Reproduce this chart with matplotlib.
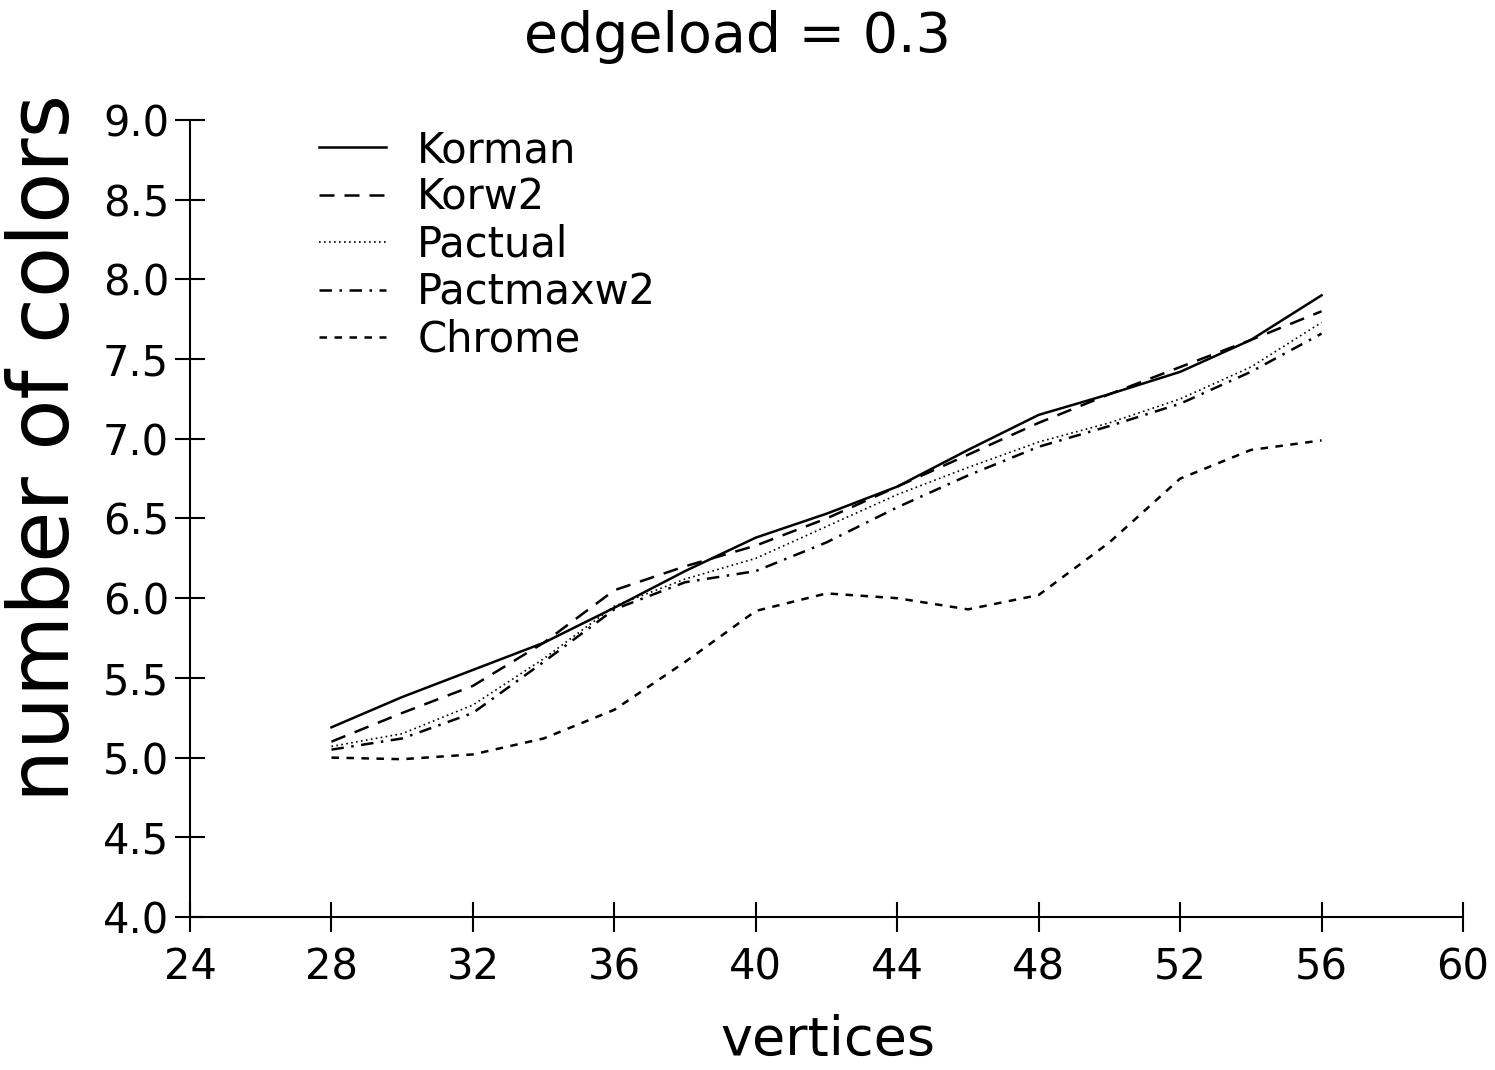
import matplotlib
matplotlib.use("Agg")
import matplotlib.pyplot as plt

vertices = [28, 30, 32, 34, 36, 38, 40, 42, 44, 46, 48, 50, 52, 54, 56]
korman = [5.19, 5.38, 5.55, 5.72, 5.94, 6.17, 6.38, 6.53, 6.70, 6.93, 7.15, 7.28, 7.42, 7.62, 7.90]
korw2 = [5.10, 5.28, 5.45, 5.72, 6.05, 6.20, 6.33, 6.50, 6.70, 6.90, 7.10, 7.28, 7.45, 7.62, 7.80]
pactual = [5.07, 5.15, 5.33, 5.62, 5.95, 6.12, 6.25, 6.45, 6.65, 6.82, 6.98, 7.10, 7.25, 7.45, 7.73]
pactmaxw2 = [5.05, 5.12, 5.28, 5.60, 5.93, 6.10, 6.17, 6.35, 6.57, 6.77, 6.95, 7.08, 7.22, 7.42, 7.66]
chrome = [5.00, 4.99, 5.02, 5.12, 5.30, 5.60, 5.92, 6.03, 6.00, 5.93, 6.02, 6.35, 6.75, 6.93, 6.99]

x_ticks = list(range(24, 61, 4))
y_ticks = [4.0, 4.5, 5.0, 5.5, 6.0, 6.5, 7.0, 7.5, 8.0, 8.5, 9.0]

plt.rcParams["font.family"] = ["DejaVu Sans"]

fig = plt.figure(figsize=(14.95, 10.7), dpi=100)
ax = fig.add_axes([190 / 1495, 1 - 917 / 1070, (1463 - 190) / 1495, (917 - 120) / 1070])

lw = 1.8
ax.plot(vertices, korman, color="black", lw=lw, linestyle="-", label="Korman")
ax.plot(vertices, korw2, color="black", lw=lw, linestyle=(0, (6, 4)), label="Korw2")
ax.plot(vertices, pactual, color="black", lw=1.2, linestyle=(0, (1, 2)), label="Pactual")
ax.plot(vertices, pactmaxw2, color="black", lw=lw, linestyle=(0, (5, 3, 1, 3)), label="Pactmaxw2")
ax.plot(vertices, chrome, color="black", lw=lw, linestyle=(0, (3, 3)), label="Chrome")

ax.set_xlim(24, 60)
ax.set_ylim(4.0, 9.0)
ax.set_xticks(x_ticks)
ax.set_yticks(y_ticks)
ax.set_yticklabels([f"{v:.1f}" for v in y_ticks])
ax.tick_params(axis="both", direction="inout", length=22, width=1.5, labelsize=30, pad=6)
ax.tick_params(axis="y", pad=4)
ax.tick_params(axis="x", pad=10)

for side in ["top", "right"]:
    ax.spines[side].set_visible(False)
for side in ["left", "bottom"]:
    ax.spines[side].set_linewidth(1.5)

ax.legend(loc="upper left", bbox_to_anchor=(0.082, 1.02), frameon=False, fontsize=30,
          handlelength=1.6, handletextpad=0.75, labelspacing=0.13, borderaxespad=0.2)

fig.text(737 / 1495, 1 - 37 / 1070, "edgeload = 0.3", fontsize=40, ha="center", va="center")
fig.text(828 / 1495, 1 - 1040 / 1070, "vertices", fontsize=39, ha="center", va="center")
fig.text(45 / 1495, 1 - 448 / 1070, "number of colors", fontsize=60, ha="center", va="center",
         rotation=90)

fig.savefig("out.png", dpi=100)
